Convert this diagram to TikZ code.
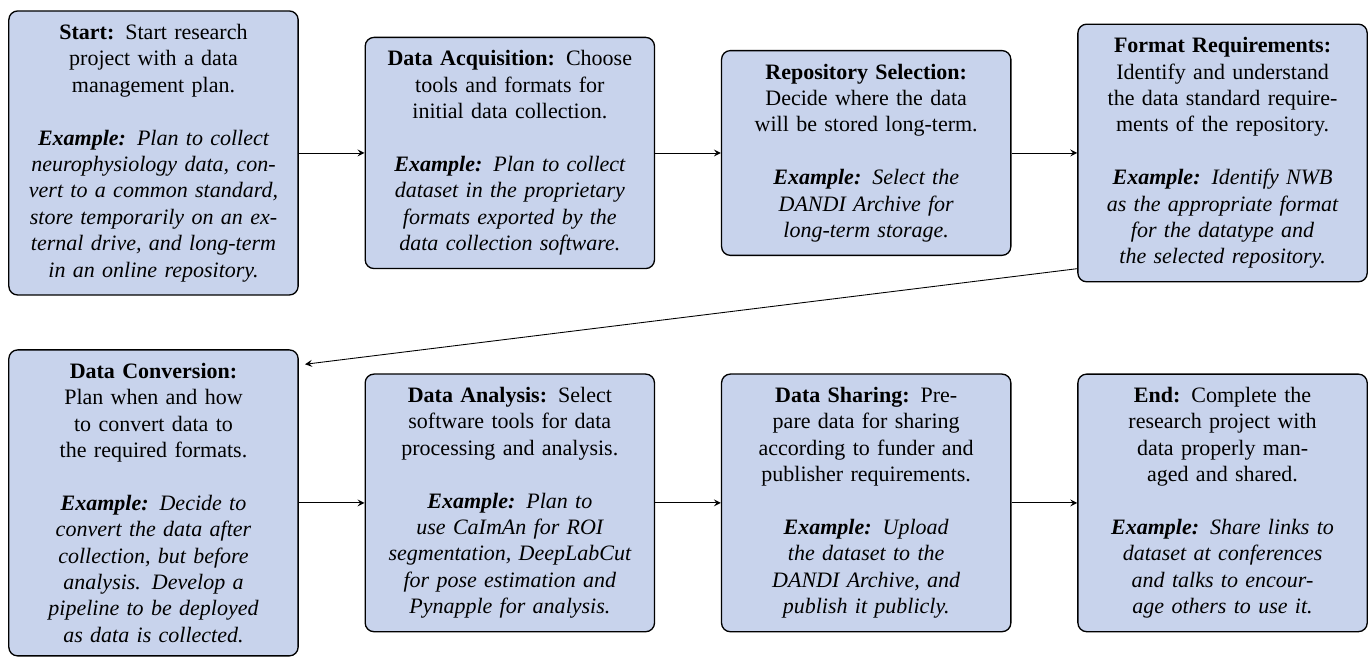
\documentclass[tikz,border=0pt]{standalone}
\usepackage{fontspec}
\setmainfont{Liberation Serif}
\usepackage{xcolor}
\usepackage{tikz}
\usetikzlibrary{positioning}

\definecolor{stagefill}{RGB}{200,211,236}
\newcommand{\stageexample}[1]{\textbf{\textit{Example:}} {\itshape #1}}

\begin{document}
\begin{tikzpicture}[
    stage/.style={shape=rectangle,draw=black,semithick,fill=stagefill,rounded corners=4pt,
      text width=4.2cm,align=center,inner sep=6pt},
    flow/.style={thin,-stealth}
  ]
  \useasboundingbox (-2.452,2.444) rectangle (19.418,-8.131);% page size

  % top row
  \node[stage] (start) at (0,0) {\textbf{Start:} Start research\\ project with a data\\ management plan.\\[12pt]
    \stageexample{Plan to collect\\ neurophysiology data, con-\\vert to a common standard,\\ store temporarily on an ex-\\ternal drive, and long-term\\ in an online repository.}};
  \node[stage,right=1.05cm of start] (acquisition) {\textbf{Data Acquisition:} Choose\\ tools and formats for\\ initial data collection.\\[12pt]
    \stageexample{Plan to collect\\ dataset in the proprietary\\ formats exported by the\\ data collection software.}};
  \node[stage,right=1.05cm of acquisition] (repository) {\textbf{Repository Selection:}\\ Decide where the data\\ will be stored long-term.\\[12pt]
    \stageexample{Select the\\ DANDI Archive for\\ long-term storage.}};
  \node[stage,right=1.05cm of repository] (requirements) {\textbf{Format Requirements:}\\ Identify and understand\\ the data standard require-\\ments of the repository.\\[12pt]
    \stageexample{Identify NWB\\ as the appropriate format\\ for the datatype and\\ the selected repository.}};

  % bottom row
  \node[stage] (conversion) at (0,-5.59) {\textbf{Data Conversion:}\\ Plan when and how\\ to convert data to\\ the required formats.\\[12pt]
    \stageexample{Decide to\\ convert the data after\\ collection, but before\\ analysis. Develop a\\ pipeline to be deployed\\ as data is collected.}};
  \node[stage,right=1.05cm of conversion] (analysis) {\textbf{Data Analysis:} Select\\ software tools for data\\ processing and analysis.\\[12pt]
    \stageexample{Plan to\\ use CaImAn for ROI\\ segmentation, DeepLabCut\\ for pose estimation and\\ Pynapple for analysis.}};
  \node[stage,right=1.05cm of analysis] (sharing) {\textbf{Data Sharing:} Pre-\\pare data for sharing\\ according to funder and\\ publisher requirements.\\[12pt]
    \stageexample{Upload\\ the dataset to the\\ DANDI Archive, and\\ publish it publicly.}};
  \node[stage,right=1.05cm of sharing] (finish) {\textbf{End:} Complete the\\ research project with\\ data properly man-\\aged and shared.\\[12pt]
    \stageexample{Share links to\\ dataset at conferences\\ and talks to encour-\\age others to use it.}};

  % arrows
  \draw[flow] (start) -- (acquisition);
  \draw[flow] (acquisition) -- (repository);
  \draw[flow] (repository) -- (requirements);
  \draw[flow] ([yshift=0.22cm]requirements.south west) -- ([xshift=0.1cm,yshift=-0.24cm]conversion.north east);
  \draw[flow] (conversion) -- (analysis);
  \draw[flow] (analysis) -- (sharing);
  \draw[flow] (sharing) -- (finish);

\end{tikzpicture}
\end{document}
